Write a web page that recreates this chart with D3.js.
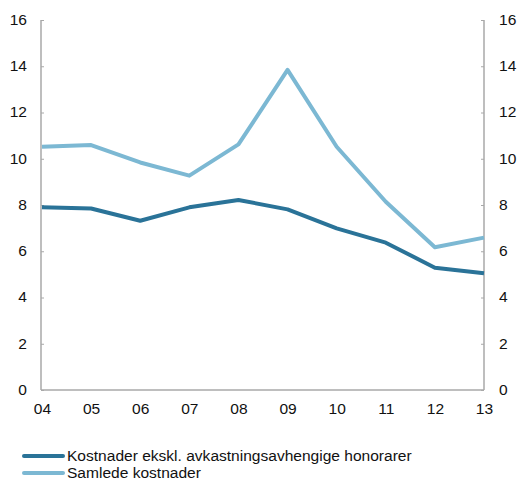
<!DOCTYPE html>
<html>
<head>
<meta charset="utf-8">
<script src="https://cdn.jsdelivr.net/npm/d3@7"></script>
<style>
  html, body { margin: 0; padding: 0; background: #fff; }
  svg { display: block; font-family: "Liberation Sans", Arial, Helvetica, sans-serif; }
</style>
</head>
<body>
<svg id="chart" width="518" height="482"></svg>
<script>
// Years (two-digit labels) and cost series in basis points
const years = ["04", "05", "06", "07", "08", "09", "10", "11", "12", "13"];
const kostnaderEkskl = [7.9, 7.85, 7.32, 7.9, 8.22, 7.81, 6.99, 6.37, 5.29, 5.05];
const samledeKostnader = [10.52, 10.59, 9.84, 9.27, 10.62, 13.84, 10.52, 8.14, 6.17, 6.59];
const yTicks = [0, 2, 4, 6, 8, 10, 12, 14, 16];

const seriesNames = ["Kostnader ekskl. avkastningsavhengige honorarer", "Samlede kostnader"];
const seriesColors = ["#2a7398", "#7cb8d3"];

const svg = d3.select("#chart");
const plotLeft = 41, plotRight = 484, plotTop = 20, plotBottom = 390;

const x = d3.scalePoint().domain(years).range([plotLeft + 1, plotRight]);
const y = d3.scaleLinear().domain([0, 16]).range([plotBottom, plotTop]);

const axisColor = "#a8a8a8";
const textStretch = 1.11;

// Widen text slightly so labels get the broader look of the original typeface
function widen(sel) {
  sel.each(function () {
    const w = this.getComputedTextLength();
    d3.select(this).attr("textLength", w * textStretch).attr("lengthAdjust", "spacingAndGlyphs");
  });
}

// Left axis: ticks point into the plot
const gl = svg.append("g").attr("transform", `translate(${plotLeft},0)`)
  .call(d3.axisLeft(y).tickValues(yTicks).tickSize(-3).tickPadding(14).tickFormat(d3.format("d")));
// Right axis
const gr = svg.append("g").attr("transform", `translate(${plotRight},0)`)
  .call(d3.axisRight(y).tickValues(yTicks).tickSize(-3).tickPadding(15).tickFormat(d3.format("d")));
// Bottom axis without tick marks
const gb = svg.append("g").attr("transform", `translate(0,${plotBottom})`)
  .call(d3.axisBottom(x).tickSize(0).tickPadding(14));

[gl, gr, gb].forEach(g => {
  g.select(".domain").attr("stroke", axisColor).attr("stroke-width", 1.5);
  g.selectAll(".tick line").attr("stroke", axisColor).attr("stroke-width", 1);
  g.selectAll(".tick text").attr("fill", "#111").style("font-size", "14px")
    .style("font-family", "'Liberation Sans', Arial, sans-serif")
    .call(widen);
});
gl.select(".domain").attr("d", `M0,${plotTop}V${plotBottom}`);
gr.select(".domain").attr("d", `M0,${plotTop}V${plotBottom}`);
gb.select(".domain").attr("d", `M${plotLeft},0H${plotRight}`);

const line = d3.line().x((d, i) => x(years[i])).y(d => y(d));

[kostnaderEkskl, samledeKostnader].forEach((vals, k) => {
  svg.append("path")
    .datum(vals)
    .attr("fill", "none")
    .attr("stroke", seriesColors[k])
    .attr("stroke-width", 4)
    .attr("stroke-linejoin", "round")
    .attr("d", line);
});

// Legend
const lg = svg.append("g");
seriesNames.forEach((name, k) => {
  const ly = 456 + k * 17;
  lg.append("line").attr("x1", 24).attr("x2", 63).attr("y1", ly).attr("y2", ly)
    .attr("stroke", seriesColors[k]).attr("stroke-width", 4).attr("stroke-linecap", "round");
  lg.append("text").attr("x", 67).attr("y", ly + 5).text(name)
    .attr("fill", "#111").style("font-size", "14px")
    .call(widen);
});
</script>
</body>
</html>
